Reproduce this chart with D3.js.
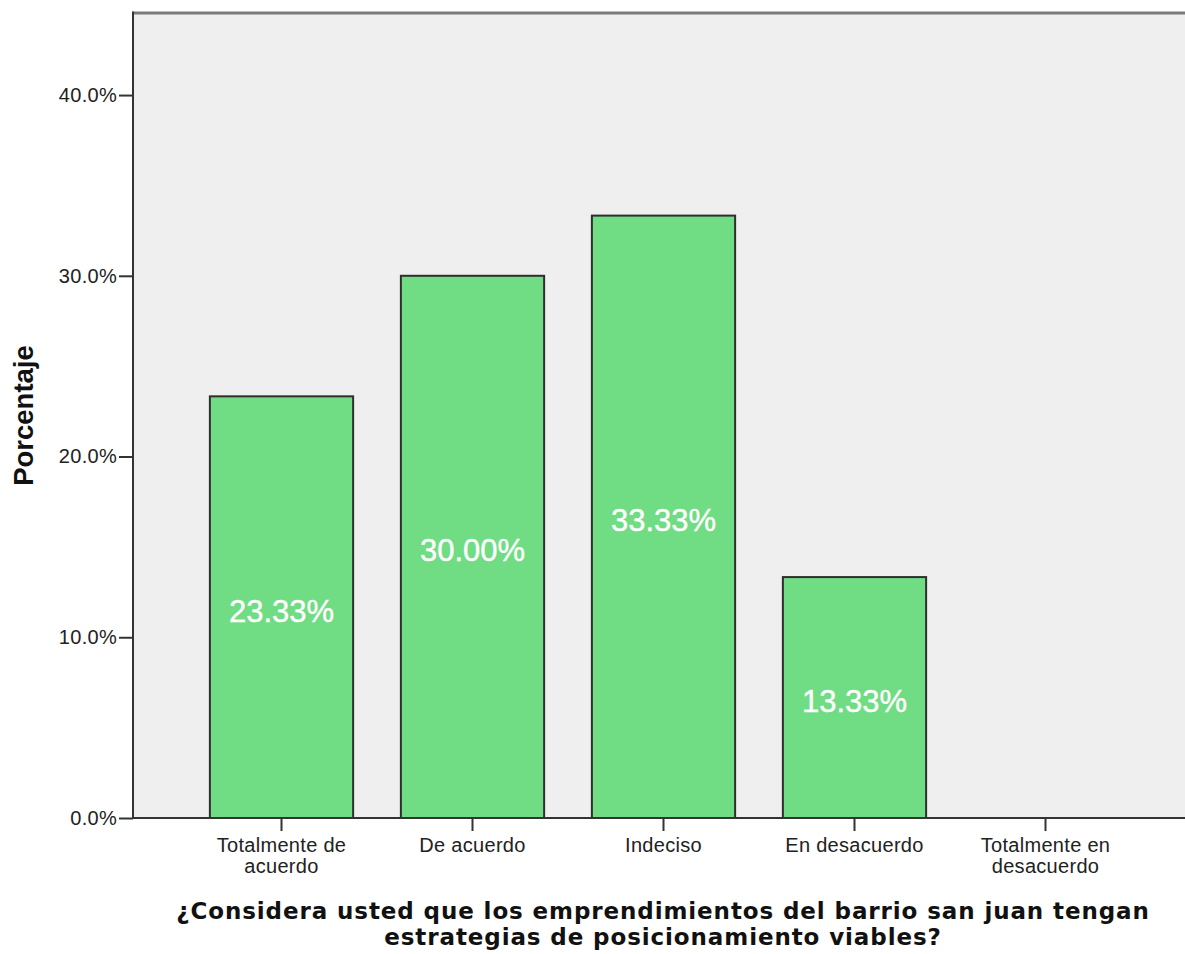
<!DOCTYPE html>
<html>
<head>
<meta charset="utf-8">
<script src="https://d3js.org/d3.v7.min.js"></script>
<style>
  html, body { margin: 0; padding: 0; background: #ffffff; }
  svg { display: block; }
</style>
</head>
<body>
<svg id="chart" width="1185" height="954"></svg>
<script>
// Response categories (each label split into its display lines)
const categories = [
  ["Totalmente de", "acuerdo"],
  ["De acuerdo"],
  ["Indeciso"],
  ["En desacuerdo"],
  ["Totalmente en", "desacuerdo"]
];
// Percentage of respondents per category
const percentages = [23.33, 30.00, 33.33, 13.33, 0];
// Y axis tick values (percent)
const yTicks = [0, 10, 20, 30, 40];
const yLabel = "Porcentaje";
const xTitleLines = [
  "¿Considera usted que los emprendimientos del barrio san juan tengan",
  "estrategias de posicionamiento viables?"
];

const svg = d3.select("#chart");
const plot = { left: 133, top: 13, right: 1185, bottom: 818 };

const keys = categories.map((c, i) => i);
const x = d3.scaleBand()
  .domain(keys)
  .range([186, 1141])
  .paddingInner(0.25)
  .paddingOuter(0.125);

const y = d3.scaleLinear()
  .domain([0, 44.54])
  .range([plot.bottom, plot.top]);

// Plot background
svg.append("rect")
  .attr("x", plot.left)
  .attr("y", plot.top)
  .attr("width", plot.right - plot.left)
  .attr("height", plot.bottom - plot.top)
  .attr("fill", "#efefef");

// Top frame line
svg.append("line")
  .attr("x1", plot.left).attr("x2", plot.right)
  .attr("y1", plot.top).attr("y2", plot.top)
  .attr("stroke", "#7a7a7a").attr("stroke-width", 3);

// Bars (only non-zero values produce a visible bar)
const barData = percentages.map((v, i) => ({ i, v })).filter(d => d.v > 0);
svg.append("g").selectAll("rect")
  .data(barData)
  .join("rect")
  .attr("x", d => x(d.i))
  .attr("y", d => y(d.v))
  .attr("width", x.bandwidth())
  .attr("height", d => y(0) - y(d.v))
  .attr("fill", "#70dc84")
  .attr("stroke", "#2e2e2e")
  .attr("stroke-width", 2);

// Value labels inside bars
svg.append("g").selectAll("text")
  .data(barData)
  .join("text")
  .attr("x", d => x(d.i) + x.bandwidth() / 2)
  .attr("y", d => (y(d.v) + y(0)) / 2 + 4)
  .attr("text-anchor", "middle")
  .attr("dominant-baseline", "central")
  .attr("font-family", "'Liberation Sans', Arial, sans-serif")
  .attr("font-size", 31)
  .attr("stroke", "#ffffff")
  .attr("stroke-width", 0.4)
  .attr("fill", "#ffffff")
  .text(d => d.v.toFixed(2) + "%");

// Y axis
const yAxis = d3.axisLeft(y)
  .tickValues(yTicks)
  .tickSize(14)
  .tickPadding(2)
  .tickFormat(d => d.toFixed(1) + "%");
const gy = svg.append("g")
  .attr("transform", `translate(${plot.left},0)`)
  .call(yAxis);
gy.select(".domain").remove();
gy.selectAll(".tick line").attr("stroke", "#333").attr("stroke-width", 2);
gy.selectAll(".tick text")
  .attr("font-family", "'Liberation Sans', Arial, sans-serif")
  .attr("font-size", 20)
  .attr("letter-spacing", 0.3)
  .attr("fill", "#222");

svg.append("line")
  .attr("x1", plot.left).attr("x2", plot.left)
  .attr("y1", plot.top - 1.5).attr("y2", plot.bottom)
  .attr("stroke", "#333").attr("stroke-width", 2);

// X axis
const xAxis = d3.axisBottom(x)
  .tickSize(13)
  .tickFormat("");
const gx = svg.append("g")
  .attr("transform", `translate(0,${plot.bottom})`)
  .call(xAxis);
gx.select(".domain").remove();
gx.selectAll(".tick line").attr("stroke", "#333").attr("stroke-width", 2);

svg.append("line")
  .attr("x1", plot.left).attr("x2", plot.right)
  .attr("y1", plot.bottom).attr("y2", plot.bottom)
  .attr("stroke", "#333").attr("stroke-width", 2);

// Category labels (wrapped)
const catText = svg.append("g").selectAll("text")
  .data(categories.map((lines, i) => ({ lines, i })))
  .join("text")
  .attr("text-anchor", "middle")
  .attr("font-family", "'Liberation Sans', Arial, sans-serif")
  .attr("font-size", 20)
  .attr("letter-spacing", 0.3)
  .attr("fill", "#222");
catText.selectAll("tspan")
  .data(d => d.lines.map(l => ({ l, i: d.i })))
  .join("tspan")
  .attr("x", d => x(d.i) + x.bandwidth() / 2)
  .attr("y", (d, j) => 852 + j * 21)
  .text(d => d.l);

// Y axis title
svg.append("text")
  .attr("transform", `translate(33,${(plot.top + plot.bottom) / 2}) rotate(-90)`)
  .attr("text-anchor", "middle")
  .attr("font-family", "'Liberation Sans', Arial, sans-serif")
  .attr("font-weight", "bold")
  .attr("font-size", 27.5)
  .attr("fill", "#111")
  .text(yLabel);

// X axis title
svg.append("text")
  .attr("text-anchor", "middle")
  .attr("font-family", "'DejaVu Sans', Verdana, sans-serif")
  .attr("font-weight", "bold")
  .attr("font-size", 23)
  .attr("letter-spacing", 0.9)
  .attr("fill", "#111")
  .selectAll("tspan")
  .data(xTitleLines)
  .join("tspan")
  .attr("x", 663)
  .attr("y", (d, j) => 919 + j * 26)
  .text(d => d);
</script>
</body>
</html>
